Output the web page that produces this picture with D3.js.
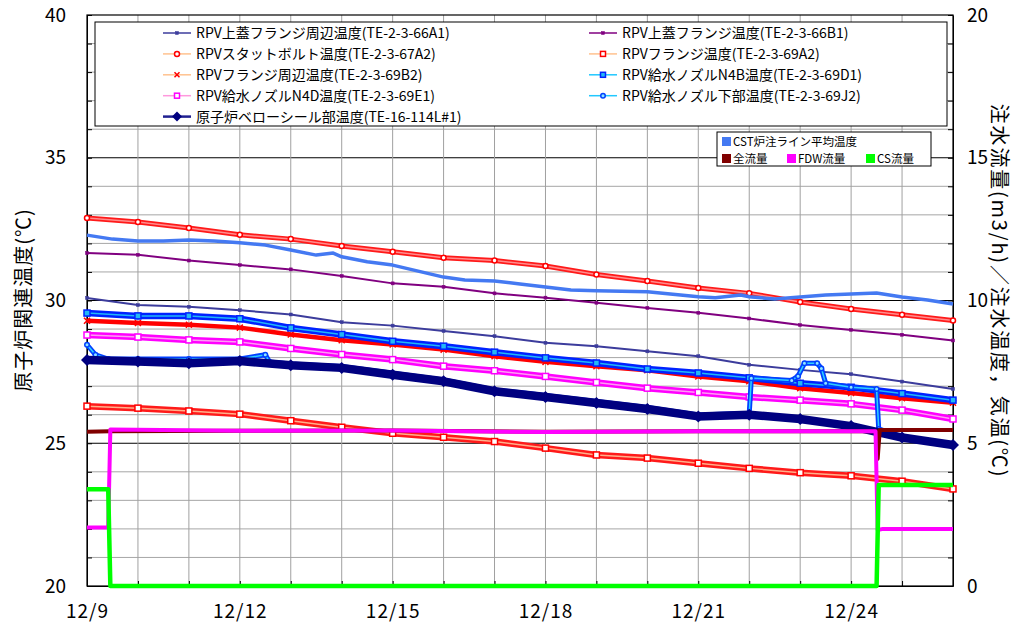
<!DOCTYPE html>
<html>
<head>
<meta charset="utf-8">
<script src="https://cdn.jsdelivr.net/npm/d3@7"></script>
<style>
  body { margin: 0; background: #fff; }
  text { font-family: "Noto Sans CJK JP", "Noto Sans", sans-serif; }
</style>
</head>
<body>
<script>
// daily readings, 12/9 .. 12/26 (left axis, degC)
const tempDays = ["12/09","12/10","12/11","12/12","12/13","12/14","12/15","12/16","12/17",
                  "12/18","12/19","12/20","12/21","12/22","12/23","12/24","12/25","12/26"];
const te66A1 = [30.09,29.84,29.78,29.66,29.51,29.24,29.12,28.93,28.75,28.52,28.40,28.22,28.05,27.75,27.57,27.42,27.16,26.90];
const te66B1 = [31.66,31.60,31.40,31.24,31.09,30.86,30.60,30.48,30.25,30.10,29.92,29.74,29.57,29.37,29.14,28.97,28.80,28.60];
const te67A2 = [32.89,32.75,32.54,32.30,32.15,31.91,31.71,31.50,31.40,31.21,30.91,30.68,30.44,30.25,29.95,29.70,29.50,29.30];
const te69A2 = [26.30,26.23,26.13,26.02,25.79,25.56,25.35,25.21,25.06,24.83,24.59,24.48,24.30,24.12,23.97,23.86,23.67,23.40];
const te69B2 = [29.29,29.21,29.15,29.05,28.81,28.61,28.46,28.28,28.05,27.85,27.70,27.56,27.34,27.17,26.93,26.76,26.58,26.42];
const te69D1 = [29.56,29.46,29.46,29.36,29.04,28.81,28.57,28.40,28.19,27.99,27.81,27.60,27.46,27.29,27.10,26.96,26.74,26.51];
const te69E1 = [28.79,28.72,28.62,28.55,28.32,28.11,27.93,27.70,27.54,27.34,27.13,26.93,26.78,26.62,26.51,26.38,26.16,25.85];
const te114L = [27.92,27.86,27.80,27.88,27.73,27.64,27.40,27.17,26.82,26.62,26.41,26.20,25.94,26.00,25.85,25.60,25.20,24.94];

// 69J2 has its own times (jumps and a bump)
const te69J2Times = ["12/09 00:00","12/09 04:00","12/09 10:00","12/10 00:00","12/11 00:00","12/12 00:00",
                     "12/12 12:00","12/12 14:00","12/13 00:00","12/14 00:00","12/15 00:00","12/16 00:00",
                     "12/17 00:00","12/18 00:00","12/19 00:00","12/20 00:00","12/21 00:00","12/22 00:00",
                     "12/22 01:00","12/22 20:00","12/22 23:00","12/23 02:00","12/23 08:00","12/23 10:00",
                     "12/23 12:00","12/24 00:00","12/24 12:00","12/24 13:00","12/25 00:00","12/26 00:00"];
const te69J2 = [28.45,28.10,27.95,27.95,27.95,27.95,28.10,27.85,27.78,27.69,27.45,27.22,26.87,26.67,26.46,
                26.25,25.99,26.05,27.28,27.20,27.35,27.80,27.80,27.62,27.10,26.96,26.90,25.50,25.22,24.98];

// CST line temperature (right axis)
const cstTimes = ["12/09 00:00","12/09 12:00","12/10 00:00","12/10 12:00","12/11 00:00","12/11 12:00",
                  "12/12 00:00","12/12 12:00","12/13 00:00","12/13 12:00","12/13 20:00","12/14 00:00",
                  "12/14 12:00","12/15 00:00","12/16 00:00","12/16 10:00","12/17 00:00","12/17 12:00",
                  "12/18 00:00","12/18 12:00","12/19 00:00","12/20 00:00","12/21 00:00","12/21 08:00",
                  "12/21 20:00","12/22 00:00","12/22 12:00","12/23 00:00","12/23 12:00","12/24 00:00",
                  "12/24 12:00","12/25 00:00","12/25 12:00","12/26 00:00"];
const cstTemp = [12.29,12.15,12.08,12.08,12.12,12.08,12.02,11.94,11.77,11.59,11.66,11.53,11.36,11.24,10.82,
                 10.72,10.68,10.58,10.47,10.37,10.34,10.31,10.13,10.10,10.19,10.13,10.05,10.12,10.19,10.23,
                 10.26,10.12,10.02,9.88];

// flows (right axis, m3/h)
const totalTimes = ["12/09 00:00","12/09 11:00","12/12 00:00","12/15 00:00","12/18 00:00","12/21 00:00",
                    "12/24 12:00","12/24 12:30","12/24 13:30","12/26 00:00"];
const totalFlow = [5.40,5.42,5.44,5.45,5.40,5.42,5.42,4.45,5.46,5.46];
const fdwTimes = ["12/09 00:00","12/09 10:00","12/09 11:00","12/12 00:00","12/15 00:00","12/18 00:00",
                  "12/21 00:00","12/24 11:30","12/24 12:30","12/24 15:00","12/26 00:00"];
const fdwFlow = [2.05,2.05,5.48,5.44,5.45,5.39,5.42,5.42,1.96,2.00,2.00];
const csTimes = ["12/09 00:00","12/09 10:00","12/09 11:00","12/24 12:00","12/24 13:00","12/26 00:00"];
const csFlow = [3.39,3.39,0,0,3.54,3.54];

const xTickLabels = ["12/9","12/12","12/15","12/18","12/21","12/24"];

const parseTime = d3.timeParse("%Y/%m/%d %H:%M");
function t(s) { return parseTime("2011/" + (s.length === 5 ? s + " 00:00" : s)); }
function zip(times, vals) { return times.map((s, i) => ({ t: t(s), v: vals[i] })); }

const width = 1014, height = 628;
const plotLeft = 87, plotRight = 953, plotTop = 15, plotBottom = 586;

const svg = d3.select("body").append("svg")
    .attr("width", width)
    .attr("height", height);

const x = d3.scaleTime().domain([t("12/09"), t("12/26")]).range([plotLeft, plotRight]);
const yL = d3.scaleLinear().domain([20, 40]).range([plotBottom, plotTop]);
const yR = d3.scaleLinear().domain([0, 20]).range([plotBottom, plotTop]);

// grid
const grid = svg.append("g");
grid.selectAll(".hg").data(d3.range(21, 40)).enter().append("line")
    .attr("x1", plotLeft).attr("x2", plotRight)
    .attr("y1", d => yL(d)).attr("y2", d => yL(d))
    .attr("stroke", d => d % 5 === 0 ? "#000" : "#a6a6a6")
    .attr("stroke-width", 1);
grid.selectAll(".vg").data(d3.timeDay.range(t("12/10"), t("12/26"))).enter().append("line")
    .attr("x1", d => x(d)).attr("x2", d => x(d))
    .attr("y1", plotTop).attr("y2", plotBottom)
    .attr("stroke", "#a0a0a0")
    .attr("stroke-width", 1);

// frame
svg.append("rect")
    .attr("x", plotLeft).attr("y", plotTop)
    .attr("width", plotRight - plotLeft).attr("height", plotBottom - plotTop)
    .attr("fill", "none").attr("stroke", "#000").attr("stroke-width", 1.2);

// axes
const axisL = d3.axisLeft(yL).tickValues(d3.range(20, 41)).tickSizeInner(-5).tickSizeOuter(0)
    .tickPadding(21).tickFormat(d => d % 5 === 0 ? d : "");
const axisR = d3.axisRight(yR).tickValues(d3.range(0, 21)).tickSizeInner(-5).tickSizeOuter(0)
    .tickPadding(14).tickFormat(d => d % 5 === 0 ? d : "");
const xTicks = d3.timeDay.range(t("12/09"), t("12/27"));
const axisB = d3.axisBottom(x).tickValues(xTicks).tickSizeInner(-5).tickSizeOuter(0)
    .tickPadding(19).tickFormat(d => {
        const s = (d.getMonth() + 1) + "/" + d.getDate();
        return xTickLabels.includes(s) ? s : "";
    });

function styleAxis(g) {
    g.select(".domain").attr("stroke", "#000");
    g.selectAll(".tick line").attr("stroke", "#000");
    g.selectAll(".tick text").attr("font-size", 19).attr("fill", "#000")
        .attr("font-family", "'Noto Sans CJK JP', sans-serif");
}
svg.append("g").attr("transform", `translate(${plotLeft},0)`).call(axisL).call(styleAxis);
svg.append("g").attr("transform", `translate(${plotRight},0)`).call(axisR).call(styleAxis);
svg.append("g").attr("transform", `translate(0,${plotBottom})`).call(axisB).call(styleAxis)
    .selectAll(".tick text").attr("letter-spacing", 1);

// axis titles
svg.append("text")
    .attr("transform", "translate(31,300) rotate(-90)")
    .attr("text-anchor", "middle")
    .attr("font-size", 20)
    .attr("letter-spacing", 1)
    .text("原子炉関連温度(℃)");
svg.append("text")
    .attr("transform", "translate(992,291) rotate(90)")
    .attr("text-anchor", "middle")
    .attr("font-size", 20)
    .attr("letter-spacing", 1.8)
    .text("注水流量(m3/h)／注水温度，気温(℃)");

// series definitions
const series = [
    { name: "RPV上蓋フランジ周辺温度(TE-2-3-66A1)", data: zip(tempDays, te66A1), axis: yL,
      color: "#3c3c9c", width: 2, legendLine: "#3c3c9c", marker: "sq", mFill: "#3c3c9c", mStroke: "#3c3c9c", mSize: 3 },
    { name: "RPV上蓋フランジ温度(TE-2-3-66B1)", data: zip(tempDays, te66B1), axis: yL,
      color: "#800080", width: 2, legendLine: "#800080", marker: "sq", mFill: "#800080", mStroke: "#800080", mSize: 3 },
    { name: "RPVスタットボルト温度(TE-2-3-67A2)", data: zip(tempDays, te67A2), axis: yL,
      color: "#ff1a1a", width: 5, inner: "#ff8c8c", legendLine: "#ffc28f", marker: "circle", mFill: "#fff", mStroke: "#ff0000", mSize: 4 },
    { name: "RPVフランジ温度(TE-2-3-69A2)", data: zip(tempDays, te69A2), axis: yL,
      color: "#ff1a1a", width: 6.5, inner: "#ffb08a", legendLine: "#ffc28f", marker: "sq", mFill: "#fff", mStroke: "#ff0000", mSize: 6 },
    { name: "RPVフランジ周辺温度(TE-2-3-69B2)", data: zip(tempDays, te69B2), axis: yL,
      color: "#ff0000", width: 4.5, legendLine: "#ffc28f", marker: "x", mFill: "none", mStroke: "#ff0000", mSize: 6 },
    { name: "RPV給水ノズルN4B温度(TE-2-3-69D1)", data: zip(tempDays, te69D1), axis: yL,
      color: "#0022ff", width: 6.5, inner: "#22b8f5", legendLine: "#22c8ff", marker: "sq", mFill: "#22b8f5", mStroke: "#0022ff", mSize: 6 },
    { name: "RPV給水ノズルN4D温度(TE-2-3-69E1)", data: zip(tempDays, te69E1), axis: yL,
      color: "#ff00ff", width: 6.5, inner: "#ff9cf2", legendLine: "#ff99dd", marker: "sq", mFill: "#fff", mStroke: "#ff00ff", mSize: 6 },
    { name: "RPV給水ノズル下部温度(TE-2-3-69J2)", data: zip(te69J2Times, te69J2), axis: yL,
      color: "#0040ff", width: 5, inner: "#2ed0ff", legendLine: "#22c8ff", marker: "circle", mFill: "#8fe6ff", mStroke: "#0040ff", mSize: 3.5 },
    { name: "原子炉ベローシール部温度(TE-16-114L#1)", data: zip(tempDays, te114L), axis: yL,
      color: "#000080", width: 8.5, legendLine: "#202090", marker: "diamond", mFill: "#000080", mStroke: "#000080", mSize: 6 }
];
const series2 = [
    { name: "CST炉注ライン平均温度", data: zip(cstTimes, cstTemp), color: "#4479f2", width: 3.5 },
    { name: "全流量", data: zip(totalTimes, totalFlow), color: "#800000", width: 4 },
    { name: "FDW流量", data: zip(fdwTimes, fdwFlow), color: "#ff00ff", width: 4 },
    { name: "CS流量", data: zip(csTimes, csFlow), color: "#00ff00", width: 4.5 }
];

function drawMarker(g, s, cx, cy) {
    const r = s.mSize;
    if (s.marker === "sq") {
        g.append("rect").attr("x", cx - r / 2).attr("y", cy - r / 2).attr("width", r).attr("height", r)
            .attr("fill", s.mFill).attr("stroke", s.mStroke).attr("stroke-width", r > 4 ? 1.5 : 0.5);
    } else if (s.marker === "circle") {
        g.append("circle").attr("cx", cx).attr("cy", cy).attr("r", r / 2 + 0.5)
            .attr("fill", s.mFill).attr("stroke", s.mStroke).attr("stroke-width", 1.5);
    } else if (s.marker === "x") {
        g.append("path").attr("d", `M${cx - r / 2},${cy - r / 2}L${cx + r / 2},${cy + r / 2}M${cx - r / 2},${cy + r / 2}L${cx + r / 2},${cy - r / 2}`)
            .attr("stroke", s.mStroke).attr("stroke-width", 1.5);
    } else if (s.marker === "diamond") {
        g.append("path").attr("d", `M${cx},${cy - r}L${cx + r},${cy}L${cx},${cy + r}L${cx - r},${cy}Z`)
            .attr("fill", s.mFill);
    }
}

const plot = svg.append("g");
series.forEach(s => {
    const line = d3.line().x(d => x(d.t)).y(d => s.axis(d.v));
    plot.append("path").datum(s.data).attr("d", line)
        .attr("fill", "none").attr("stroke", s.color).attr("stroke-width", s.width)
        .attr("stroke-linejoin", "round");
    if (s.inner) {
        plot.append("path").datum(s.data).attr("d", line)
            .attr("fill", "none").attr("stroke", s.inner).attr("stroke-width", 1.5);
    }
    const mg = plot.append("g");
    s.data.forEach(d => drawMarker(mg, s, x(d.t), s.axis(d.v)));
});
series2.forEach(s => {
    const line = d3.line().x(d => x(d.t)).y(d => yR(d.v));
    plot.append("path").datum(s.data).attr("d", line)
        .attr("fill", "none").attr("stroke", s.color).attr("stroke-width", s.width)
        .attr("stroke-linejoin", "round");
});

// legend 1
const leg = svg.append("g");
leg.append("rect").attr("x", 95).attr("y", 22).attr("width", 852).attr("height", 104)
    .attr("fill", "#fff").attr("stroke", "#000").attr("stroke-width", 1);
series.forEach((s, i) => {
    const col = i % 2, row = Math.floor(i / 2);
    const lx = col === 0 ? 163 : 589;
    const ly = 33 + row * 20.9;
    leg.append("line").attr("x1", lx).attr("x2", lx + 28).attr("y1", ly).attr("y2", ly)
        .attr("stroke", s.legendLine).attr("stroke-width", s.marker === "diamond" ? 2.5 : 1.5);
    const sm = Object.assign({}, s, { mSize: s.marker === "diamond" ? 5 : Math.min(s.mSize, 5) });
    drawMarker(leg, sm, lx + 14, ly);
    leg.append("text").attr("x", lx + 33).attr("y", ly).attr("dy", "0.36em")
        .attr("font-size", 14).text(s.name);
});

// legend 2
const leg2 = svg.append("g");
leg2.append("rect").attr("x", 717).attr("y", 132).attr("width", 214).attr("height", 34)
    .attr("fill", "#fff").attr("stroke", "#000").attr("stroke-width", 1);
const leg2Pos = [[722, 141.5], [722, 158.5], [787, 158.5], [866, 158.5]];
series2.forEach((s, i) => {
    const [lx, ly] = leg2Pos[i];
    leg2.append("rect").attr("x", lx).attr("y", ly - 4.5).attr("width", 9).attr("height", 9)
        .attr("fill", s.color);
    leg2.append("text").attr("x", lx + 11).attr("y", ly).attr("dy", "0.36em")
        .attr("font-size", 11.5).text(s.name);
});
</script>
</body>
</html>
